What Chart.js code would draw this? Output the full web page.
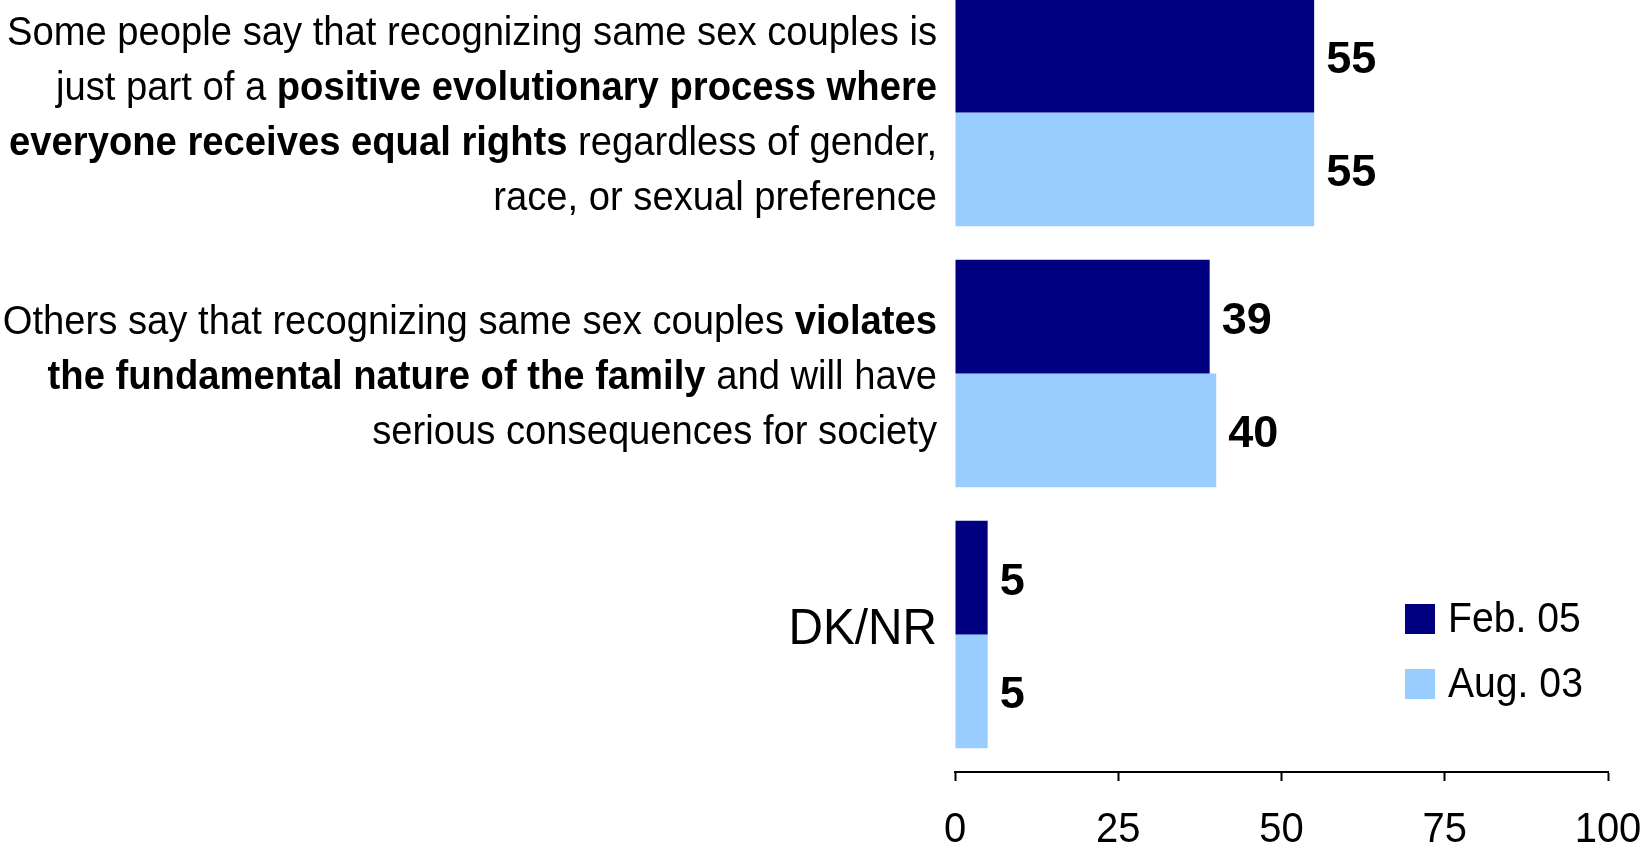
<!DOCTYPE html>
<html>
<head>
<meta charset="utf-8">
<script src="https://cdn.jsdelivr.net/npm/chart.js@4.4.1/dist/chart.umd.min.js"></script>
<style>
  html, body { margin: 0; padding: 0; background: #ffffff; overflow: hidden; width: 1642px; height: 845px; }
  #wrap { position: absolute; left: 0; top: -18px; width: 1642px; height: 863px; }
</style>
</head>
<body>
<div id="wrap"><canvas id="c" width="1642" height="863"></canvas></div>
<script>
// ---- data ----
const categories = [
  ["Some people say that recognizing same sex couples is",
   "just part of a positive evolutionary process where",
   "everyone receives equal rights regardless of gender,",
   "race, or sexual preference"],
  ["Others say that recognizing same sex couples violates",
   "the fundamental nature of the family and will have",
   "serious consequences for society"],
  ["DK/NR"]
];
const emphasized = [
  "positive evolutionary process where everyone receives equal rights",
  "violates the fundamental nature of the family",
  ""
];
const seriesNames = ["Feb. 05", "Aug. 03"];
const feb05 = [55, 39, 5];
const aug03 = [55, 40, 5];
const xTicks = [0, 25, 50, 75, 100];

// ---- styles ----
const SANS = '"Liberation Sans", Arial, Helvetica, sans-serif';
const colors = ["#000080", "#99CCFF"];
const CAP = 0.358; // half cap-height ratio, used to centre text on a line

// draw text horizontally condensed by factor sx
function condensedText(ctx, text, x, y, font, sx, align, baseline) {
  ctx.save();
  ctx.font = font;
  ctx.textAlign = align;
  ctx.textBaseline = baseline;
  ctx.translate(x, y);
  ctx.scale(sx, 1);
  ctx.fillText(text, 0, 0);
  ctx.restore();
}

const categoryLabelsPlugin = {
  id: 'richCategoryLabels',
  afterDraw(chart) {
    const ctx = chart.ctx;
    const y = chart.scales.y;
    const rightX = chart.chartArea.left - 18;
    const sx = 0.955;
    categories.forEach((lines, i) => {
      const single = lines.length === 1;
      const size = single ? 50 : 40;
      const lh = 55;
      const full = lines.join(" ");
      const emph = emphasized[i];
      const s = emph ? full.indexOf(emph) : -1;
      const e = s >= 0 ? s + emph.length : -1;
      const cy = y.getPixelForValue(i) + (single ? -8 : 1);
      const top = cy - (lines.length - 1) * lh / 2;
      let offset = 0;
      ctx.save();
      ctx.fillStyle = '#000';
      lines.forEach((line, li) => {
        const segs = [];
        let cur = null;
        for (let k = 0; k < line.length; k++) {
          const g = offset + k;
          const bold = s >= 0 && g >= s && g < e;
          if (!cur || cur.bold !== bold) { cur = { bold, text: '' }; segs.push(cur); }
          cur.text += line[k];
        }
        offset += line.length + 1;
        let total = 0;
        segs.forEach(sg => {
          sg.font = (sg.bold ? 'bold ' : '') + size + 'px ' + SANS;
          ctx.font = sg.font;
          sg.w = ctx.measureText(sg.text).width * sx;
          total += sg.w;
        });
        let x = rightX - total;
        const ly = top + li * lh + CAP * size;
        segs.forEach(sg => {
          condensedText(ctx, sg.text, x, ly, sg.font, sx, 'left', 'alphabetic');
          x += sg.w;
        });
      });
      ctx.restore();
    });
  }
};

const xTickLabelsPlugin = {
  id: 'xTickLabels',
  afterDraw(chart) {
    const ctx = chart.ctx;
    const xs = chart.scales.x;
    const base = chart.chartArea.bottom + 70;
    ctx.save();
    ctx.fillStyle = '#000';
    xTicks.forEach(v => {
      condensedText(ctx, String(v), xs.getPixelForValue(v), base, '43px ' + SANS, 0.93, 'center', 'alphabetic');
    });
    ctx.restore();
  }
};

const valueLabelsPlugin = {
  id: 'valueLabels',
  afterDatasetsDraw(chart) {
    const ctx = chart.ctx;
    ctx.save();
    ctx.fillStyle = '#000';
    chart.data.datasets.forEach((ds, di) => {
      const meta = chart.getDatasetMeta(di);
      meta.data.forEach((bar, i) => {
        condensedText(ctx, String(ds.data[i]), bar.x + 12, bar.y + CAP * 45 + 1, 'bold 45px ' + SANS, 1, 'left', 'alphabetic');
      });
    });
    ctx.restore();
  }
};

const legendPlugin = {
  id: 'boxLegend',
  afterDraw(chart) {
    const ctx = chart.ctx;
    ctx.save();
    chart.data.datasets.forEach((ds, i) => {
      const bx = 1405, by = 622 + i * 65;
      ctx.fillStyle = ds.backgroundColor;
      ctx.fillRect(bx, by, 30, 30);
      ctx.fillStyle = '#000';
      condensedText(ctx, ds.label, bx + 43, by + 16, '43px ' + SANS, 0.91, 'left', 'middle');
    });
    ctx.restore();
  }
};

new Chart(document.getElementById('c'), {
  type: 'bar',
  data: {
    labels: categories.map((c, i) => i),
    datasets: [
      { label: seriesNames[0], data: feb05, backgroundColor: colors[0], borderWidth: 0 },
      { label: seriesNames[1], data: aug03, backgroundColor: colors[1], borderWidth: 0 }
    ]
  },
  options: {
    indexAxis: 'y',
    responsive: false,
    animation: false,
    events: [],
    datasets: { bar: { categoryPercentage: 0.872, barPercentage: 1.0 } },
    layout: { padding: { left: 955, right: 34, top: 0, bottom: 64 } },
    plugins: { legend: { display: false }, tooltip: { enabled: false }, title: { display: false } },
    scales: {
      x: {
        type: 'linear',
        min: xTicks[0], max: xTicks[xTicks.length - 1],
        afterBuildTicks(scale) { scale.ticks = xTicks.map(v => ({ value: v })); },
        ticks: { display: false },
        grid: { drawOnChartArea: false, drawTicks: true, tickLength: 9, tickColor: '#000', tickWidth: 2 },
        border: { display: true, color: '#000', width: 2 }
      },
      y: {
        type: 'linear',
        reverse: true,
        offset: false,
        min: -0.5,
        max: 2.527,
        afterBuildTicks(scale) { scale.ticks = categories.map((c, i) => ({ value: i })); },
        display: false
      }
    }
  },
  plugins: [categoryLabelsPlugin, xTickLabelsPlugin, valueLabelsPlugin, legendPlugin]
});
</script>
</body>
</html>
